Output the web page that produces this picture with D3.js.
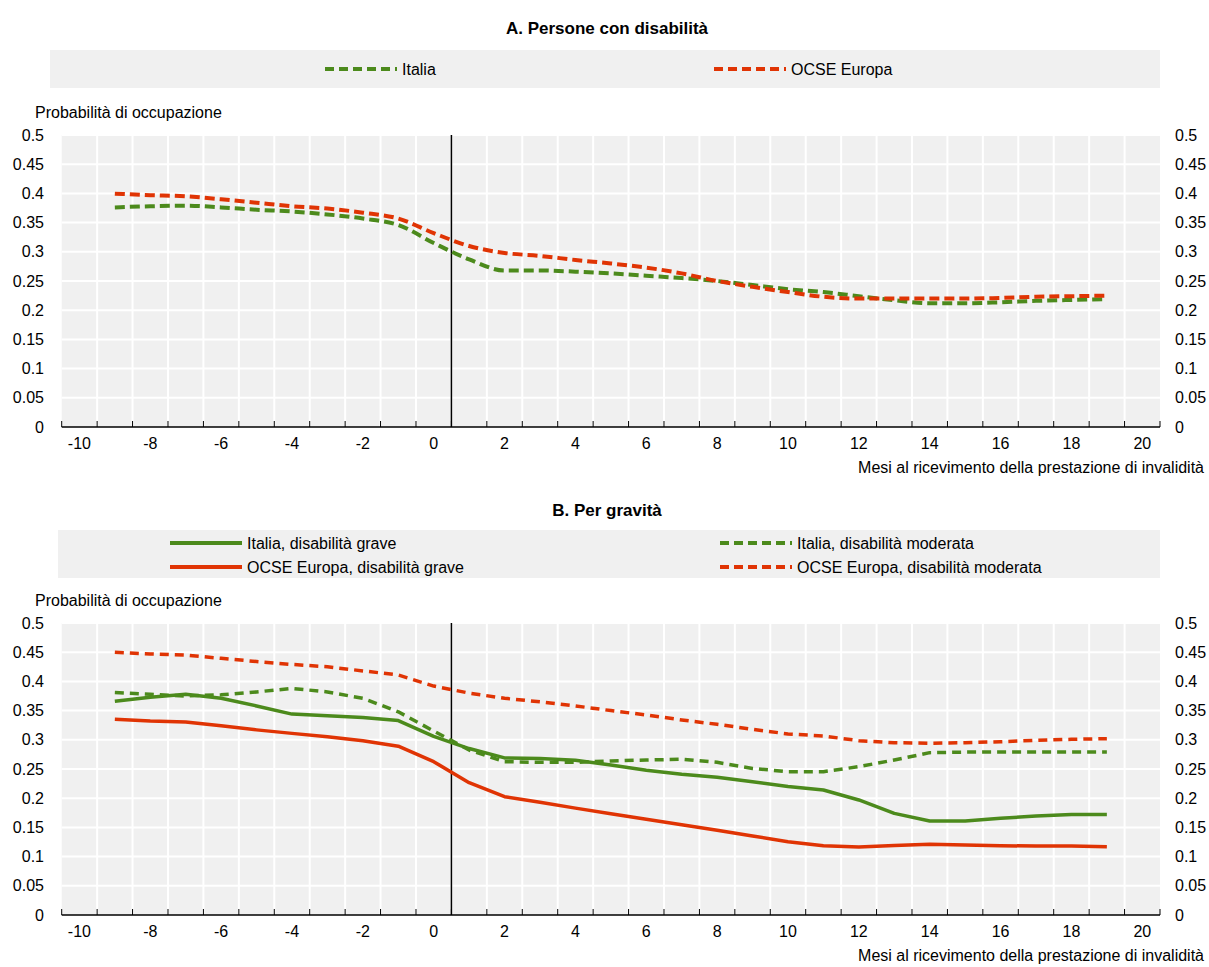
<!DOCTYPE html>
<html>
<head>
<meta charset="utf-8">
<script src="https://cdn.jsdelivr.net/npm/d3@7"></script>
<style>
  body { margin: 0; background: #fff; }
  text { font-family: Arial, "Liberation Sans", sans-serif; font-size: 16px; fill: #000; }
</style>
</head>
<body>
<script>
// months relative to receipt of the disability benefit
var months = d3.range(-10, 21);
var dataMonths = d3.range(-9, 20);
var xTickLabels = [-10, -8, -6, -4, -2, 0, 2, 4, 6, 8, 10, 12, 14, 16, 18, 20];
var yTicks = [0, 0.05, 0.1, 0.15, 0.2, 0.25, 0.3, 0.35, 0.4, 0.45, 0.5];

// Panel A
var italiaA = [0.376, 0.378, 0.379, 0.376, 0.372, 0.369, 0.364, 0.357, 0.346, 0.315, 0.287, 0.268, 0.268, 0.266, 0.263, 0.259, 0.255, 0.25, 0.243, 0.236, 0.231, 0.224, 0.217, 0.212, 0.212, 0.2135, 0.216, 0.2175, 0.219];
var ocseA = [0.3995, 0.397, 0.395, 0.39, 0.384, 0.378, 0.374, 0.367, 0.357, 0.332, 0.31, 0.298, 0.293, 0.286, 0.28, 0.273, 0.263, 0.25, 0.24, 0.231, 0.223, 0.22, 0.22, 0.22, 0.22, 0.221, 0.223, 0.224, 0.225];

// Panel B
var italiaGrave = [0.366, 0.373, 0.378, 0.371, 0.358, 0.344, 0.341, 0.338, 0.333, 0.306, 0.285, 0.269, 0.268, 0.265, 0.257, 0.248, 0.241, 0.236, 0.228, 0.22, 0.214, 0.197, 0.174, 0.161, 0.161, 0.1655, 0.1695, 0.172, 0.172];
var italiaModerata = [0.381, 0.378, 0.375, 0.377, 0.382, 0.388, 0.382, 0.371, 0.348, 0.315, 0.2825, 0.2625, 0.2614, 0.2614, 0.2637, 0.2654, 0.2666, 0.2614, 0.251, 0.2454, 0.2454, 0.254, 0.2654, 0.278, 0.279, 0.279, 0.279, 0.279, 0.279];
var ocseGrave = [0.335, 0.332, 0.3305, 0.324, 0.317, 0.311, 0.3054, 0.2985, 0.289, 0.2626, 0.2266, 0.2026, 0.193, 0.183, 0.1735, 0.1638, 0.1545, 0.145, 0.1353, 0.1256, 0.1187, 0.1165, 0.119, 0.121, 0.12, 0.1187, 0.118, 0.118, 0.117];
var ocseModerata = [0.45, 0.447, 0.445, 0.4395, 0.434, 0.429, 0.425, 0.418, 0.411, 0.392, 0.38, 0.371, 0.365, 0.358, 0.35, 0.3425, 0.334, 0.3265, 0.318, 0.31, 0.3065, 0.2985, 0.295, 0.294, 0.295, 0.2967, 0.299, 0.3008, 0.302];

var green = "rgb(76,138,28)";
var red = "rgb(224,52,4)";
var panelBg = "#f0f0f0";

var W = 1209, H = 967;
var plotLeft = 61.7, plotRight = 1160;

var svg = d3.select("body").append("svg")
  .attr("width", W)
  .attr("height", H);

var x = d3.scaleBand()
  .domain(months)
  .range([plotLeft, plotRight])
  .padding(0);

function drawPanel(cfg) {
  var g = svg.append("g");
  var y = d3.scaleLinear().domain([0, 0.5]).range([cfg.bottom, cfg.top]);

  // title
  g.append("text")
    .attr("x", 607).attr("y", cfg.titleY)
    .attr("text-anchor", "middle")
    .style("font-weight", "bold")
    .style("font-size", "17px")
    .text(cfg.title);

  // legend box
  g.append("rect")
    .attr("x", cfg.legend.x0).attr("y", cfg.legend.y0)
    .attr("width", cfg.legend.x1 - cfg.legend.x0)
    .attr("height", cfg.legend.y1 - cfg.legend.y0)
    .attr("fill", panelBg);

  cfg.series.forEach(function(s) {
    g.append("line")
      .attr("x1", s.lx).attr("x2", s.lx + 72)
      .attr("y1", s.ly).attr("y2", s.ly)
      .attr("stroke", s.color)
      .attr("stroke-width", 4)
      .attr("stroke-dasharray", s.dashed ? "9,5" : null);
    g.append("text")
      .attr("x", s.lx + 77).attr("y", s.ly)
      .attr("dy", "0.35em")
      .text(s.name);
  });

  // y title
  g.append("text")
    .attr("x", 35).attr("y", cfg.top - 17)
    .text("Probabilità di occupazione");

  // plot background
  g.append("rect")
    .attr("x", plotLeft).attr("y", cfg.top)
    .attr("width", plotRight - plotLeft)
    .attr("height", cfg.bottom - cfg.top)
    .attr("fill", panelBg);

  // gridlines
  g.selectAll(".hgrid")
    .data(yTicks.slice(1))
    .enter().append("line")
    .attr("x1", plotLeft).attr("x2", plotRight)
    .attr("y1", function(d) { return y(d); })
    .attr("y2", function(d) { return y(d); })
    .attr("stroke", "#fff").attr("stroke-width", 2);

  g.selectAll(".vgrid")
    .data(months.slice(1))
    .enter().append("line")
    .attr("x1", function(d) { return x(d); })
    .attr("x2", function(d) { return x(d); })
    .attr("y1", cfg.top).attr("y2", cfg.bottom)
    .attr("stroke", "#fff").attr("stroke-width", 2);

  // y labels, both sides
  g.selectAll(".ylab")
    .data(yTicks)
    .enter().append("text")
    .attr("x", 44)
    .attr("y", function(d) { return y(d); })
    .attr("dy", "0.35em")
    .attr("text-anchor", "end")
    .text(function(d) { return d3.format("")(d); });

  g.selectAll(".ylabr")
    .data(yTicks)
    .enter().append("text")
    .attr("x", 1175)
    .attr("y", function(d) { return y(d); })
    .attr("dy", "0.35em")
    .text(function(d) { return d3.format("")(d); });

  // vertical reference line between month 0 and 1
  g.append("line")
    .attr("x1", x(1)).attr("x2", x(1))
    .attr("y1", cfg.top).attr("y2", cfg.bottom)
    .attr("stroke", "#000").attr("stroke-width", 1.5);

  // lines
  cfg.series.forEach(function(s) {
    var line = d3.line()
      .x(function(d, i) { return x(dataMonths[i]) + x.bandwidth() / 2; })
      .y(function(d) { return y(d); })
      .curve(cfg.curve);
    g.append("path")
      .datum(s.values)
      .attr("d", line)
      .attr("fill", "none")
      .attr("stroke", s.color)
      .attr("stroke-width", s.dashed ? cfg.dashWidth : 3.5)
      .attr("stroke-dasharray", s.dashed ? cfg.dash : null)
      .attr("stroke-linejoin", "round");
  });

  // x axis
  g.append("line")
    .attr("x1", plotLeft).attr("x2", plotRight)
    .attr("y1", cfg.bottom).attr("y2", cfg.bottom)
    .attr("stroke", "#000").attr("stroke-width", 1.5);

  g.selectAll(".xtick")
    .data(months.concat([21]))
    .enter().append("line")
    .attr("x1", function(d) { return d === 21 ? plotRight : x(d); })
    .attr("x2", function(d) { return d === 21 ? plotRight : x(d); })
    .attr("y1", cfg.bottom).attr("y2", cfg.bottom - 6)
    .attr("stroke", "#000").attr("stroke-width", 1);

  g.selectAll(".xlab")
    .data(xTickLabels)
    .enter().append("text")
    .attr("x", function(d) { return x(d) + x.bandwidth() / 2; })
    .attr("y", cfg.bottom + 16)
    .attr("dy", "0.35em")
    .attr("text-anchor", "middle")
    .text(function(d) { return d; });

  g.append("text")
    .attr("x", 1204).attr("y", cfg.bottom + 40)
    .attr("dy", "0.35em")
    .attr("text-anchor", "end")
    .text("Mesi al ricevimento della prestazione di invalidità");
}

drawPanel({
  title: "A. Persone con disabilità",
  titleY: 34,
  top: 135, bottom: 427,
  legend: { x0: 50, x1: 1160, y0: 50, y1: 88 },
  curve: d3.curveMonotoneX,
  dash: "10,5", dashWidth: 4,
  series: [
    { name: "Italia", values: italiaA, color: green, dashed: true, lx: 325, ly: 69 },
    { name: "OCSE Europa", values: ocseA, color: red, dashed: true, lx: 714, ly: 69 }
  ]
});

drawPanel({
  title: "B. Per gravità",
  titleY: 516,
  top: 623, bottom: 915,
  legend: { x0: 58, x1: 1160, y0: 530, y1: 578 },
  curve: d3.curveLinear,
  dash: "9,6", dashWidth: 3.5,
  series: [
    { name: "Italia, disabilità grave", values: italiaGrave, color: green, dashed: false, lx: 170, ly: 543 },
    { name: "OCSE Europa, disabilità grave", values: ocseGrave, color: red, dashed: false, lx: 170, ly: 567 },
    { name: "Italia, disabilità moderata", values: italiaModerata, color: green, dashed: true, lx: 720, ly: 543 },
    { name: "OCSE Europa, disabilità moderata", values: ocseModerata, color: red, dashed: true, lx: 720, ly: 567 }
  ]
});
</script>
</body>
</html>
